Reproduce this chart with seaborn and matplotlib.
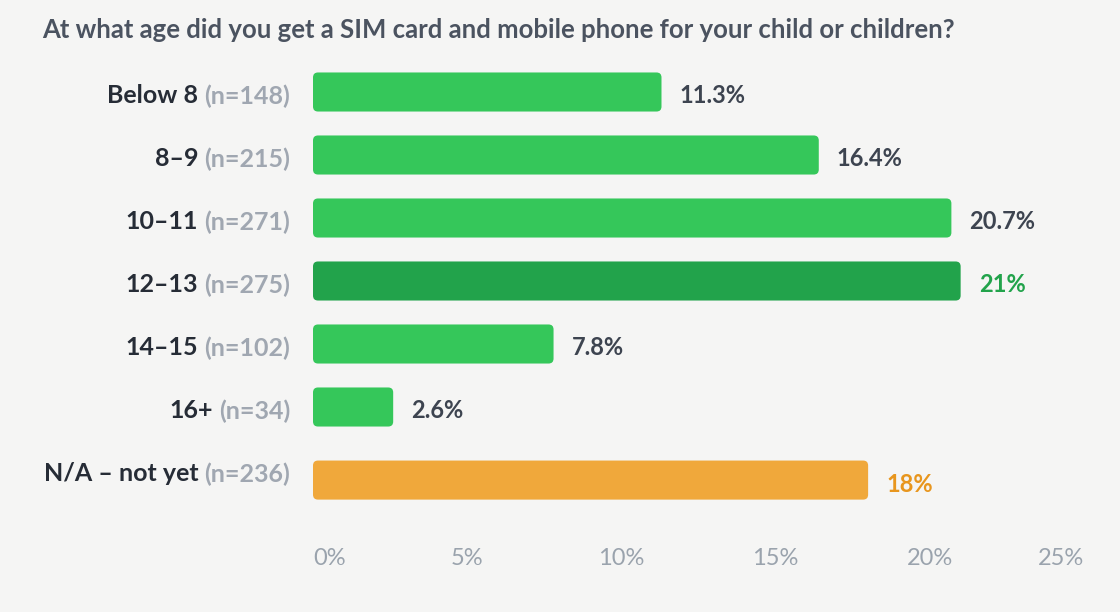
import matplotlib
matplotlib.use("Agg")
import matplotlib.pyplot as plt
import matplotlib.transforms as mtransforms
from matplotlib.patches import FancyBboxPatch
import seaborn as sns
import numpy as np

categories = ["Below 8", "8–9", "10–11", "12–13", "14–15", "16+", "N/A – not yet"]
counts = [148, 215, 271, 275, 102, 34, 236]
values = [11.3, 16.4, 20.7, 21.0, 7.8, 2.6, 18.0]
bar_colors = ["#35c75a", "#35c75a", "#35c75a", "#22a34b", "#35c75a", "#35c75a", "#f0a83b"]
value_colors = ["#3d4450", "#3d4450", "#3d4450", "#22a34b", "#3d4450", "#3d4450", "#e8961e"]
xticks = [0, 5, 10, 15, 20, 25]
title = "At what age did you get a SIM card and mobile phone for your child or children?"

BG = "#f5f5f4"
sns.set_theme(style="white")
plt.rcParams["font.family"] = ["Lato", "DejaVu Sans"]

W, H = 1120, 612
fig = plt.figure(figsize=(W / 100, H / 100), dpi=100, facecolor=BG)
left_px, right_px, top_px, bot_px = 313, 1084, 60, 520
ax = fig.add_axes([left_px / W, 1 - bot_px / H, (right_px - left_px) / W, (bot_px - top_px) / H])
ax.set_facecolor(BG)

sns.barplot(x=values, y=categories, hue=categories, palette=bar_colors,
            legend=False, orient="h", width=0.62, ax=ax, saturation=1)

row_px = 63.0
ax.set_xlim(0, 25)
ax.set_ylim((bot_px - 92) / row_px, -(92 - top_px) / row_px)

# extra gap before the last (N/A) row
gap = 0.16
px_per_x = (right_px - left_px) / 25.0
aspect = (1 / row_px) / (1 / px_per_x)
r = 5 / px_per_x
patches = list(ax.patches)
for i, p in enumerate(patches):
    x0, y0, w, h = p.get_x(), p.get_y(), p.get_width(), p.get_height()
    off = gap if i == len(patches) - 1 else 0.0
    fb = FancyBboxPatch((x0, y0 + off), w, h,
                        boxstyle=f"round,pad=0,rounding_size={r}",
                        mutation_aspect=aspect, facecolor=p.get_facecolor(),
                        edgecolor="none", zorder=2)
    p.remove()
    ax.add_patch(fb)

for s in ax.spines.values():
    s.set_visible(False)
ax.set_yticks([])
ax.set_xticks(xticks)
ax.set_xticklabels([f"{t}%" for t in xticks], fontsize=17, color="#9aa3ad")
ax.tick_params(axis="x", length=0, pad=20)
tl = ax.get_xticklabels()
tl[0].set_ha("left")
tl[-1].set_ha("right")
ax.set_xlabel("")
ax.set_ylabel("")

# value labels
for i, (v, c) in enumerate(zip(values, value_colors)):
    off = gap if i == len(values) - 1 else 0.0
    t = mtransforms.offset_copy(ax.transData, fig=fig, x=18, y=-4, units="dots")
    ax.text(v, i + off, f"{v:g}%", transform=t, ha="left", va="center",
            fontsize=17, fontweight="bold", color=c)

# category labels
fig.canvas.draw()
renderer = fig.canvas.get_renderer()
ytr = ax.get_yaxis_transform()
for i, (cat, n) in enumerate(zip(categories, counts)):
    t1 = mtransforms.offset_copy(ytr, fig=fig, x=-23, y=-4, units="dots")
    g = ax.text(0, i, f"(n={n})", transform=t1, ha="right", va="center",
                fontsize=18, fontweight="bold", color="#a0a7b1")
    wpx = g.get_window_extent(renderer).width
    t2 = mtransforms.offset_copy(ytr, fig=fig, x=-23 - wpx - 6, y=-4, units="dots")
    ax.text(0, i, cat, transform=t2, ha="right", va="center",
            fontsize=18, fontweight="bold", color="#262c36")

fig.text(42 / W, 1 - 30 / H, title, ha="left", va="center",
         fontsize=18.5, fontweight="bold", color="#4b5360")

fig.savefig("out.png", dpi=100, facecolor=BG)
